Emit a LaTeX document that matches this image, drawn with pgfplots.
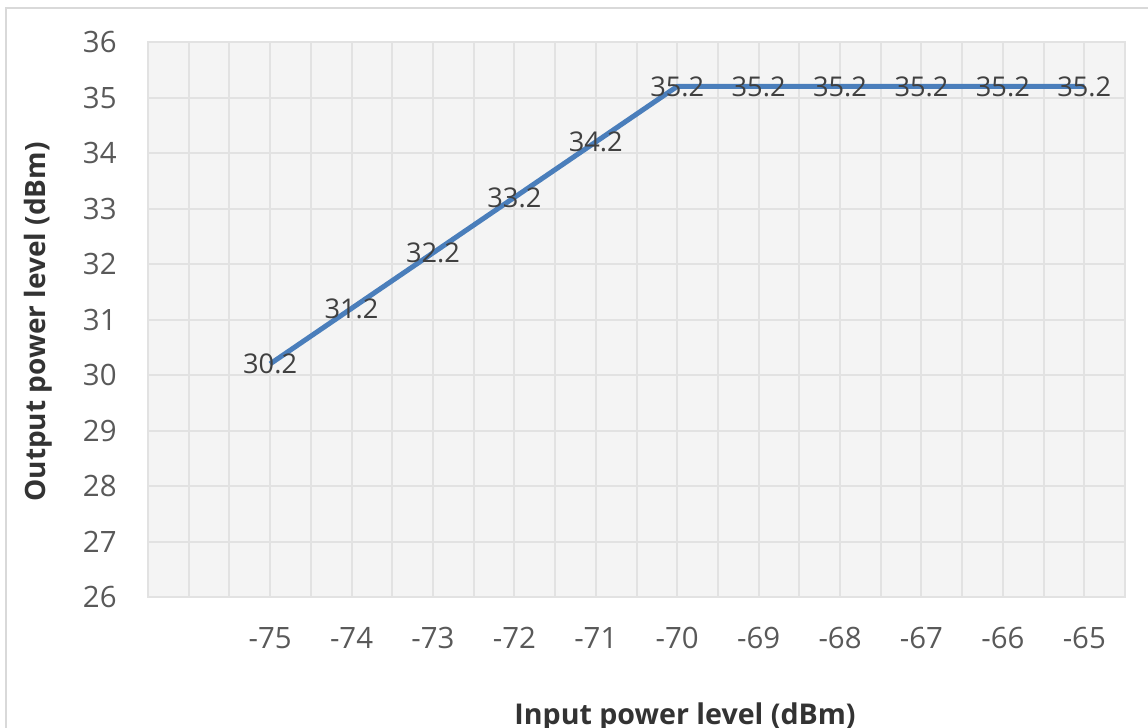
\documentclass[border=0pt]{standalone}
\usepackage{fontspec}
\setmainfont{Open Sans}
\usepackage{pgfplots}
\pgfplotsset{compat=1.18}
\definecolor{linecol}{HTML}{4A7EBB}
\definecolor{gridcol}{HTML}{E2E2E2}
\definecolor{bgcol}{HTML}{F4F4F4}
\definecolor{tickcol}{HTML}{595959}
\definecolor{labcol}{HTML}{404040}
\definecolor{titlecol}{HTML}{333333}
\definecolor{framecol}{HTML}{D9D9D9}
\begin{document}
\begin{tikzpicture}
\path[use as bounding box] (0,0) rectangle (574bp,-364bp);
\draw[framecol, line width=1bp] (3bp,-364bp) -- (3bp,-4bp) -- (574bp,-4bp);
\begin{axis}[
  at={(74bp,-298.5bp)}, anchor=south west,
  scale only axis, width=488.5bp, height=277.5bp,
  xmin=-76.5, xmax=-64.5, ymin=26, ymax=36,
  axis background/.style={fill=bgcol},
  axis line style={draw=gridcol, line width=1bp},
  xtick={-75,-74,-73,-72,-71,-70,-69,-68,-67,-66,-65},
  xticklabels={-75,-74,-73,-72,-71,-70,-69,-68,-67,-66,-65},
  minor xtick={-76,-75.5,-75,-74.5,-74,-73.5,-73,-72.5,-72,-71.5,-71,-70.5,-70,-69.5,-69,-68.5,-68,-67.5,-67,-66.5,-66,-65.5,-65},
  ytick={26,27,28,29,30,31,32,33,34,35,36},
  xminorgrids=true, ymajorgrids=true,
  grid style={draw=gridcol, line width=1bp},
  minor grid style={draw=gridcol, line width=1bp},
  major tick length=0pt, minor tick length=0pt,
  tick style={draw=none},
  /pgf/number format/assume math mode=true,
  xticklabel style={font=\fontsize{14.7bp}{16bp}\selectfont, text=tickcol, anchor=north, inner sep=0pt, yshift=-15bp},
  yticklabel style={font=\fontsize{14.7bp}{16bp}\selectfont, text=tickcol, anchor=east, inner sep=0pt, xshift=-15.5bp},
  clip=false,
]
\addplot[linecol, line width=2.5bp, line join=round,
  nodes near coords, point meta=explicit symbolic,
  every node near coord/.append style={anchor=center, font=\fontsize{13.6bp}{15bp}\selectfont, text=labcol, inner sep=0pt}]
  coordinates {
  (-75,30.2) [30.2]
  (-74,31.2) [31.2]
  (-73,32.2) [32.2]
  (-72,33.2) [33.2]
  (-71,34.2) [34.2]
  (-70,35.2) [35.2]
  (-69,35.2) [35.2]
  (-68,35.2) [35.2]
  (-67,35.2) [35.2]
  (-66,35.2) [35.2]
  (-65,35.2) [35.2]
  };
\end{axis}
\node[anchor=base, font=\bfseries\fontsize{14.3bp}{16bp}\selectfont, text=titlecol] at (342.5bp,-362bp) {Input power level (dBm)};
\node[rotate=90, anchor=base, font=\bfseries\fontsize{14bp}{16bp}\selectfont, text=titlecol] at (22.5bp,-161bp) {Output power level (dBm)};
\end{tikzpicture}
\end{document}
